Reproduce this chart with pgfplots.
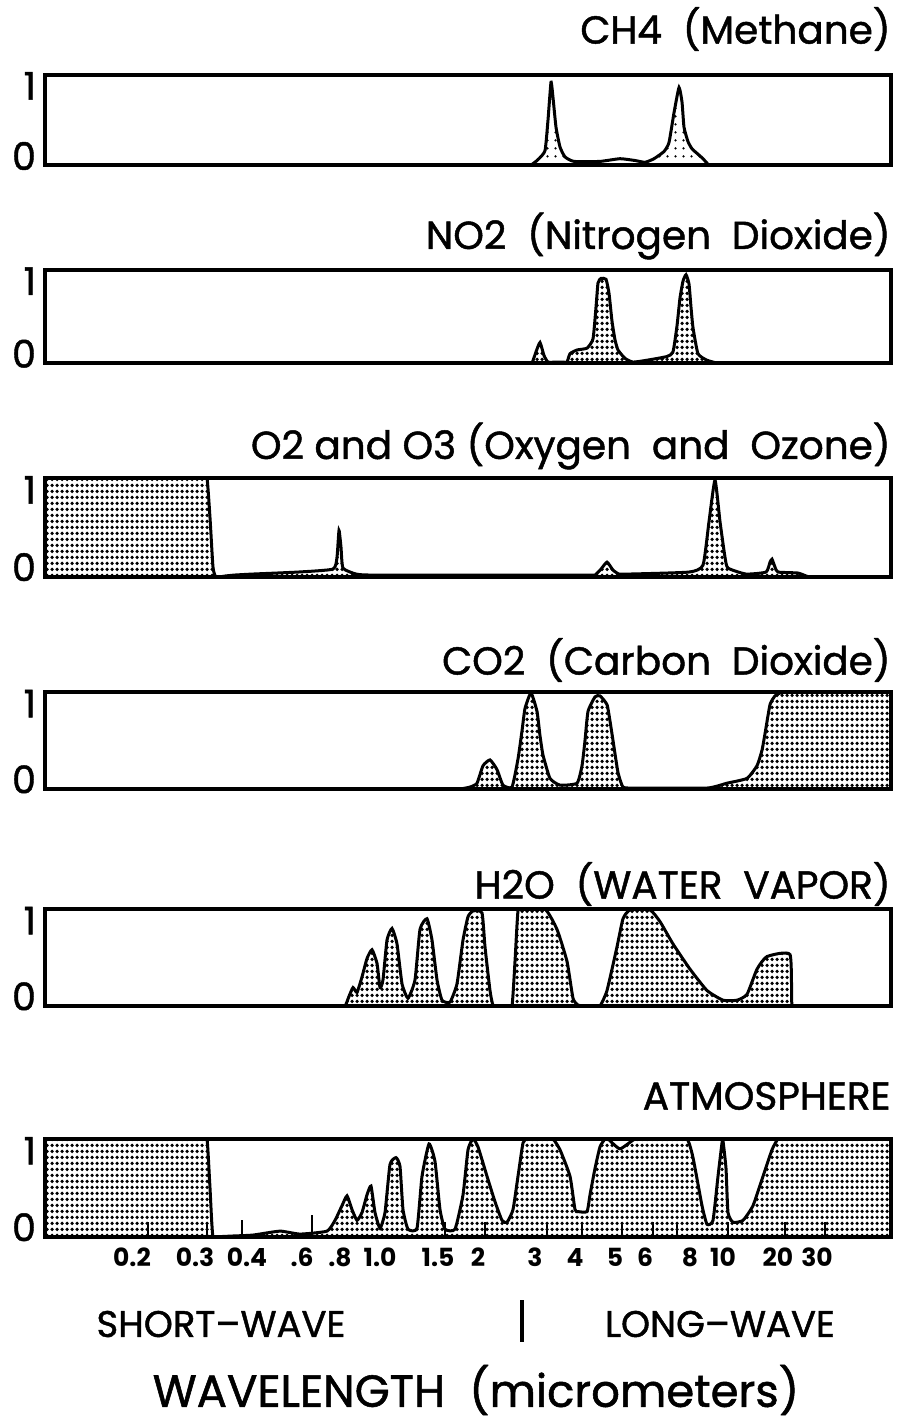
\documentclass[border=0pt]{standalone}
\usepackage{fontspec}
\setmainfont{Poppins}
\newfontfamily\hfont{Poppins}[FakeBold=1.2, Ligatures=TeX]
\usepackage{pgfplots}
\pgfplotsset{compat=1.18}
\usetikzlibrary{patterns}

\pgfdeclarepatternformonly{densedots}{\pgfqpoint{0pt}{0pt}}{\pgfqpoint{2.5pt}{3pt}}{\pgfqpoint{2.5pt}{3pt}}{%
  \pgfpathcircle{\pgfqpoint{1.25pt}{1.5pt}}{1.08pt}\pgfusepath{fill}}
\pgfdeclarepatternformonly{sparsedots}{\pgfqpoint{0pt}{0pt}}{\pgfqpoint{4pt}{4pt}}{\pgfqpoint{4pt}{4pt}}{%
  \pgfpathcircle{\pgfqpoint{2pt}{2pt}}{0.7pt}\pgfusepath{fill}}

\pgfplotsset{
  panel/.style={
    width=423pt, scale only axis,
    xmin=45, xmax=891, ymin=0, ymax=1,
    axis line style={line width=2.4pt},
    axis on top,
    xtick=\empty,
    ytick={0.1,0.88}, yticklabels={0,1},
    major tick length=0pt,
    yticklabel style={font=\hfont\fontsize{19}{19}\selectfont, xshift=-1pt},
    anchor=south west,
  },
  curve/.style={draw=black, line width=1.5pt, smooth, tension=0.3, pattern=densedots, pattern color=black},
}

\begin{document}
\begin{tikzpicture}
\begin{scope}[x=0.5pt,y=-0.5pt]
\path[use as bounding box] (0,0) rectangle (900,1424);
\tikzset{ttl/.style={anchor=east, inner sep=0pt, font=\hfont\fontsize{19.5}{22}\selectfont}}
\node[ttl] at (891,29) {CH4~~(Methane)};
\node[ttl] at (891,236) {NO2~~(Nitrogen~~Dioxide)};
\node[ttl] at (891,446) {O2 and O3 (Oxygen~~and~~Ozone)};
\node[ttl] at (891,660) {CO2~~(Carbon~~Dioxide)};
\node[ttl] at (891,884) {H2O~~(WATER~~VAPOR)};
\node[ttl] at (891,1096) {ATMOSPHERE};
\node[font=\hfont\fontsize{18.5}{22}\selectfont] at (221,1324) {SHORT\textendash WAVE};
\node[font=\hfont\fontsize{18.5}{22}\selectfont] at (720,1324) {LONG\textendash WAVE};
\draw[line width=2pt] (522,1300) -- (522,1342);
\node[font=\hfont\fontsize{22.5}{26}\selectfont] at (476,1390) {WAVELENGTH~~(micrometers)};
\end{scope}

% CH4
\begin{axis}[panel, height=45pt, at={(22.5pt,-82.5pt)}]
\addplot[draw=black, line width=1.5pt, smooth, tension=0.3, pattern=sparsedots] coordinates {
(45,0) (520,0) (526,0) (531,0) (538,0.06) (545,0.16) (548,0.5) (551,0.92) (553,0.75) (556,0.42) (560,0.2) (565,0.09) (574,0.04) (600,0.04) (620,0.07) (635,0.05) (645,0.03) (654,0.07) (664,0.15) (669,0.25) (674,0.58) (679,0.86) (682,0.7) (684,0.42) (688,0.26) (692,0.18) (698,0.12) (703,0.07) (709,0) (716,0) (724,0) (891,0)
} \closedcycle;
\end{axis}

% NO2
\begin{axis}[panel, height=46.5pt, at={(22.5pt,-181.5pt)}]
\addplot[curve] coordinates {
(45,0) (520,0) (528,0) (532,0) (536,0.12) (540,0.22) (544,0.08) (548,0.01) (556,0.01) (563,0.01) (567,0.01) (570,0.1) (577,0.14) (587,0.16) (593,0.26) (596,0.6) (598,0.86) (601,0.91) (606,0.9) (609,0.75) (612,0.45) (615,0.25) (618,0.14) (625,0.05) (633,0.01) (647,0.03) (667,0.07) (673,0.12) (677,0.4) (680,0.7) (683,0.88) (686,0.95) (689,0.85) (691,0.6) (693,0.38) (698,0.1) (707,0.03) (717,0) (725,0) (733,0) (891,0)
} \closedcycle;
\end{axis}

% O2 and O3
\begin{axis}[panel, height=49.5pt, at={(22.5pt,-288.5pt)}]
\addplot[curve] coordinates {
(45,1) (195,1) (202,1) (207,1) (210,0.6) (213,0.1) (216,0) (225,0.01) (235,0.02) (253,0.03) (298,0.05) (333,0.08) (337,0.2) (339,0.47) (341,0.3) (343,0.09) (356,0.03) (370,0.02) (450,0.02) (580,0.02) (588,0.02) (595,0.02) (601,0.08) (607,0.15) (613,0.07) (619,0.03) (630,0.03) (689,0.05) (703,0.12) (709,0.56) (715,0.98) (720,0.56) (725,0.2) (728,0.09) (746,0.03) (766,0.05) (770,0.15) (772,0.18) (775,0.1) (778,0.05) (798,0.04) (809,0) (818,0) (826,0) (891,0)
} \closedcycle;
\end{axis}

% CO2
\begin{axis}[panel, height=48.5pt, at={(22.5pt,-394.5pt)}]
\addplot[curve] coordinates {
(45,0) (445,0) (453,0) (460,0) (470,0.02) (477,0.06) (483,0.24) (490,0.3) (497,0.2) (503,0.04) (512,0.02) (518,0.31) (522,0.6) (525,0.83) (531,0.99) (537,0.8) (540,0.55) (543,0.35) (550,0.11) (560,0.04) (577,0.06) (582,0.24) (585,0.5) (588,0.8) (595,0.95) (600,0.96) (607,0.87) (610,0.7) (613,0.5) (618,0.17) (623,0.02) (633,0.01) (645,0.01) (707,0.01) (727,0.06) (747,0.11) (757,0.24) (762,0.4) (765,0.57) (770,0.87) (775,0.96) (780,0.99) (787,1) (795,1) (803,1) (891,1)
} \closedcycle;
\end{axis}

% H2O
\begin{axis}[panel, height=48.5pt, at={(22.5pt,-503pt)}]
\addplot[curve] coordinates {
(45,0) (330,0) (338,0) (345,0) (349,0.1) (353,0.19) (357,0.14) (362,0.3) (367,0.49) (372,0.58) (377,0.44) (380,0.19) (383,0.27) (387,0.68) (392,0.8) (397,0.64) (402,0.23) (408,0.08) (415,0.27) (420,0.79) (427,0.9) (432,0.68) (437,0.27) (442,0.06) (450,0.04) (457,0.23) (463,0.68) (468,0.92) (473,0.98) (482,0.96) (485,0.61) (490,0.16) (493,0.01) (500,0) (506,0) (512,0) (515,0.46) (518,0.98) (523,1) (545,1) (557,0.79) (567,0.46) (573,0.08) (578,0.01) (586,0) (593,0) (600,0) (607,0.16) (617,0.61) (623,0.9) (630,0.99) (650,0.99) (660,0.87) (673,0.64) (690,0.38) (707,0.16) (723,0.06) (737,0.06) (747,0.12) (757,0.38) (767,0.51) (790,0.53) (792,0) (800,0) (808,0) (891,0)
} \closedcycle;
\end{axis}

% Atmosphere
\begin{axis}[panel, height=49pt, at={(22.5pt,-618.5pt)},
  xtick={132,195,247,302,340,380,438,478,535,575,615,645,690,723,778,817},
  xticklabels={0.2,0.3,0.4,.6,.8,1.0,1.5,2,3,4,5,6,8,10,20,30},
  xticklabel style={font=\bfseries\fontsize{12.5}{12}\selectfont, yshift=-2pt},
]
\addplot[curve] coordinates {
(45,1) (195,1) (201,1) (207,1) (210,0.5) (213,0) (222,0.005) (232,0.01) (253,0.02) (280,0.06) (300,0.03) (327,0.06) (335,0.17) (342,0.32) (347,0.42) (352,0.28) (357,0.17) (362,0.25) (367,0.43) (371,0.52) (375,0.25) (380,0.09) (385,0.25) (390,0.74) (396,0.81) (400,0.72) (403,0.28) (408,0.08) (417,0.09) (422,0.62) (429,0.95) (435,0.77) (440,0.28) (445,0.08) (455,0.08) (463,0.43) (468,0.89) (473,1) (478,0.92) (487,0.62) (495,0.36) (502,0.17) (507,0.15) (513,0.28) (518,0.62) (523,0.96) (527,1) (535,1) (545,1) (553,1) (560,0.89) (570,0.62) (575,0.28) (578,0.26) (587,0.26) (590,0.43) (595,0.7) (600,0.92) (605,1) (608,1) (620,0.9) (635,1) (650,1) (670,1) (687,1) (693,0.81) (702,0.32) (707,0.13) (713,0.17) (718,0.62) (722,0.96) (723,0.98) (726,0.7) (728,0.25) (733,0.15) (743,0.17) (753,0.32) (763,0.62) (772,0.89) (778,1) (786,1) (795,1) (891,1)
} \closedcycle;
\addplot[ycomb, draw=black, line width=1.2pt, mark=none] coordinates {
(148,0.15) (207,0.15) (242,0.17) (312,0.22) (445,0.15) (485,0.15) (547,0.15) (582,0.15) (622,0.15) (653,0.15) (677,0.15) (728,0.15) (785,0.15) (825,0.15)
};
\end{axis}
\end{tikzpicture}
\end{document}
